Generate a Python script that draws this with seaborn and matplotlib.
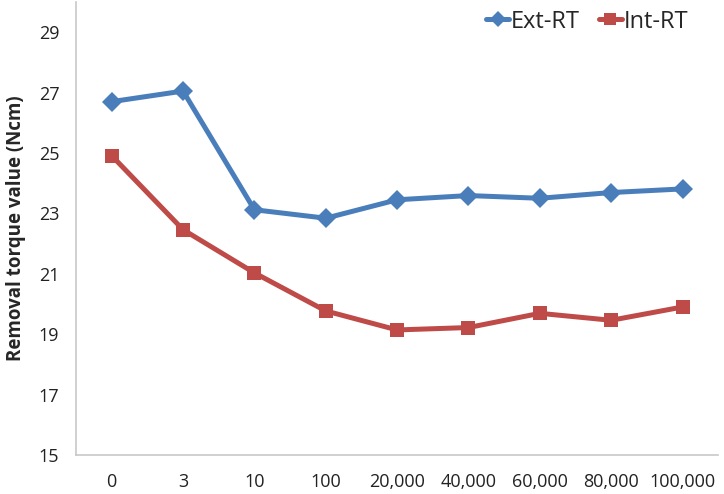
import matplotlib
matplotlib.use('Agg')
import matplotlib.pyplot as plt
import seaborn as sns
import pandas as pd

#   Data
cycles = ['0', '3', '10', '100', '20,000', '40,000', '60,000', '80,000', '100,000']
ext_rt = [26.70, 27.05, 23.12, 22.84, 23.45, 23.59, 23.50, 23.69, 23.81]
int_rt = [24.91, 22.46, 21.03, 19.77, 19.14, 19.22, 19.69, 19.46, 19.90]

df = pd.DataFrame({
    'cycle': cycles * 2,
    'value': ext_rt + int_rt,
    'series': ['Ext-RT'] * len(cycles) + ['Int-RT'] * len(cycles),
})

sns.set_style('white')
plt.rcParams['font.family'] = ['Open Sans', 'DejaVu Sans']

fig = plt.figure(figsize=(7.24, 4.94), dpi=100)
ax = fig.add_axes([0.105, 0.079, 0.887, 0.917])

sns.lineplot(data=df, x='cycle', y='value', hue='series', style='series',
             palette={'Ext-RT': '#4A7EBB', 'Int-RT': '#BE4B48'},
             markers={'Ext-RT': 'D', 'Int-RT': 's'}, dashes=False,
             linewidth=3.6, markersize=10, markeredgewidth=0, ax=ax)

ax.set_xlim(-0.5, len(cycles) - 0.5)
ax.set_ylim(15, 30)
ax.set_yticks(range(15, 30, 2))
ax.set_xlabel('')
ax.set_ylabel('Removal torque value (Ncm)', fontsize=13.5, fontweight='bold', labelpad=9)
ax.tick_params(axis='both', length=0, labelsize=13, colors='#222222')
ax.tick_params(axis='x', pad=13)
ax.tick_params(axis='y', pad=12)

for side in ['top', 'right']:
    ax.spines[side].set_visible(False)
for side in ['left', 'bottom']:
    ax.spines[side].set_color('#C8C8C8')
    ax.spines[side].set_linewidth(1.2)

leg = ax.legend(loc='upper right', bbox_to_anchor=(0.986, 1.03), ncol=2, frameon=False,
                fontsize=17, handlelength=1.0, handletextpad=0.05, columnspacing=0.8,
                markerscale=0.8)

plt.savefig('out.png', dpi=100)
